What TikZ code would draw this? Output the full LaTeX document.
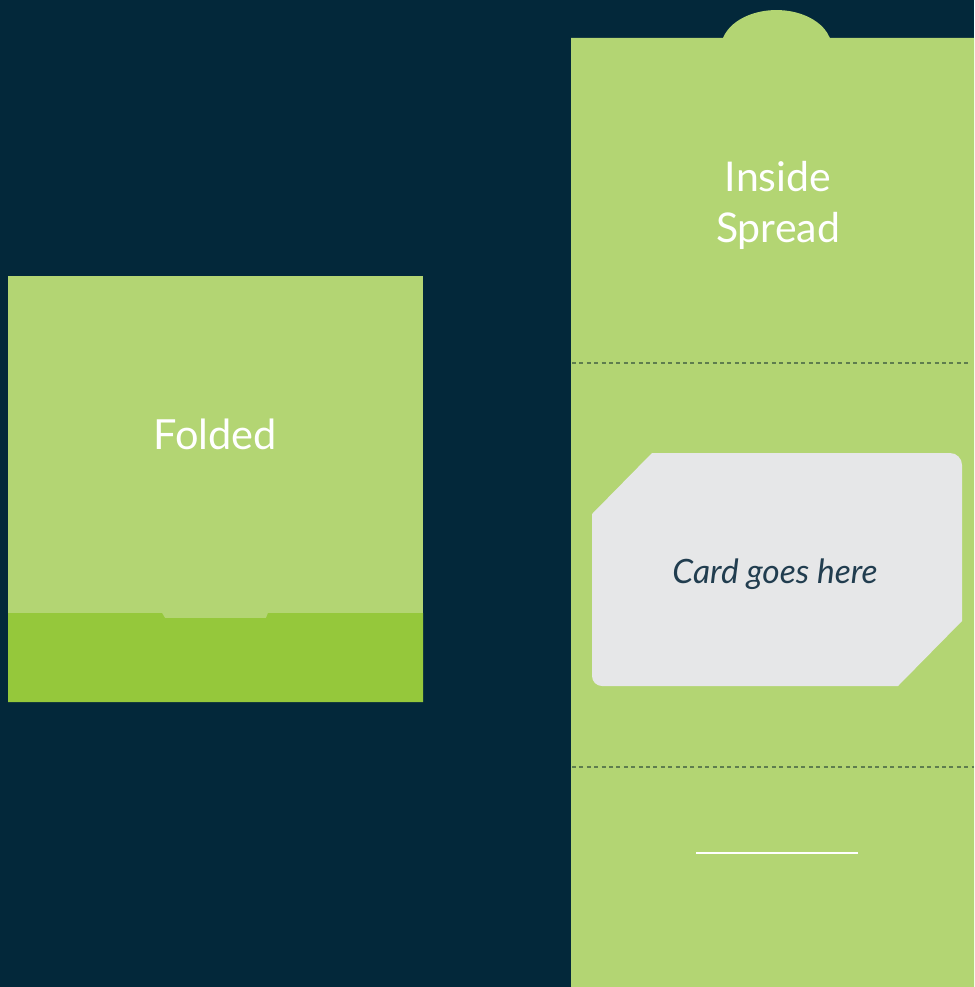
\documentclass[tikz,border=0pt]{standalone}
\usepackage{fontspec}
\setmainfont{Lato}
\usetikzlibrary{positioning}
\usepackage{xcolor}
\definecolor{cnavy}{HTML}{03283A}
\definecolor{clight}{HTML}{B3D573}
\definecolor{cdark}{HTML}{95C83B}
\definecolor{ccard}{HTML}{E6E7E8}
\definecolor{cfold}{HTML}{5E7D4E}
\definecolor{cink}{HTML}{213D4F}

\begin{document}
\begin{tikzpicture}[
  x=1pt, y=-1pt,
  title/.style={text=white, font=\fontsize{41}{48}\selectfont,
                inner sep=0pt, anchor=base},
  foldline/.style={draw=cfold, line width=1.2pt, dash pattern=on 4pt off 3.4pt}
]
\fill[cnavy] (0,0) rectangle (974,987);
\useasboundingbox (0,0) rectangle (974,987);

% folded view
\fill[clight] (8,276) rectangle (423,702);
\fill[cdark] (8,613) -- (162,613) -- (165,618) -- (266,618) -- (268,613)
  -- (423,613) -- (423,702) -- (8,702) -- cycle;
\node[title, font=\fontsize{41.5}{48}\selectfont] (folded) at (215,449) {Folded};

% inside spread
\fill[clight] (571,987) -- (571,38) -- (723,38)
  arc[start angle=195.3, end angle=344.7, x radius=55.4, y radius=38]
  -- (974,38) -- (974,987) -- cycle;
\node[title] (inside) at (778,192) {Inside};
\node[title] (spread) at (778,242) {Spread};

\draw[foldline] (572,363) -- (970,363);
\draw[foldline] (572,767) -- (974,767);

% card slot
\fill[ccard] (592,514) -- (652,453) -- (950,453)
  arc[start angle=-90, end angle=0, radius=12]
  -- (962,621) -- (898,686) -- (602,686)
  arc[start angle=90, end angle=180, radius=10] -- cycle;
\node[text=cink, font=\fontsize{33.5}{40}\selectfont\itshape, inner sep=0pt,
      anchor=base] (card) at (775,583) {Card goes here};

\draw[white, line width=1.5pt] (696,853) -- (858,853);
\end{tikzpicture}
\end{document}
